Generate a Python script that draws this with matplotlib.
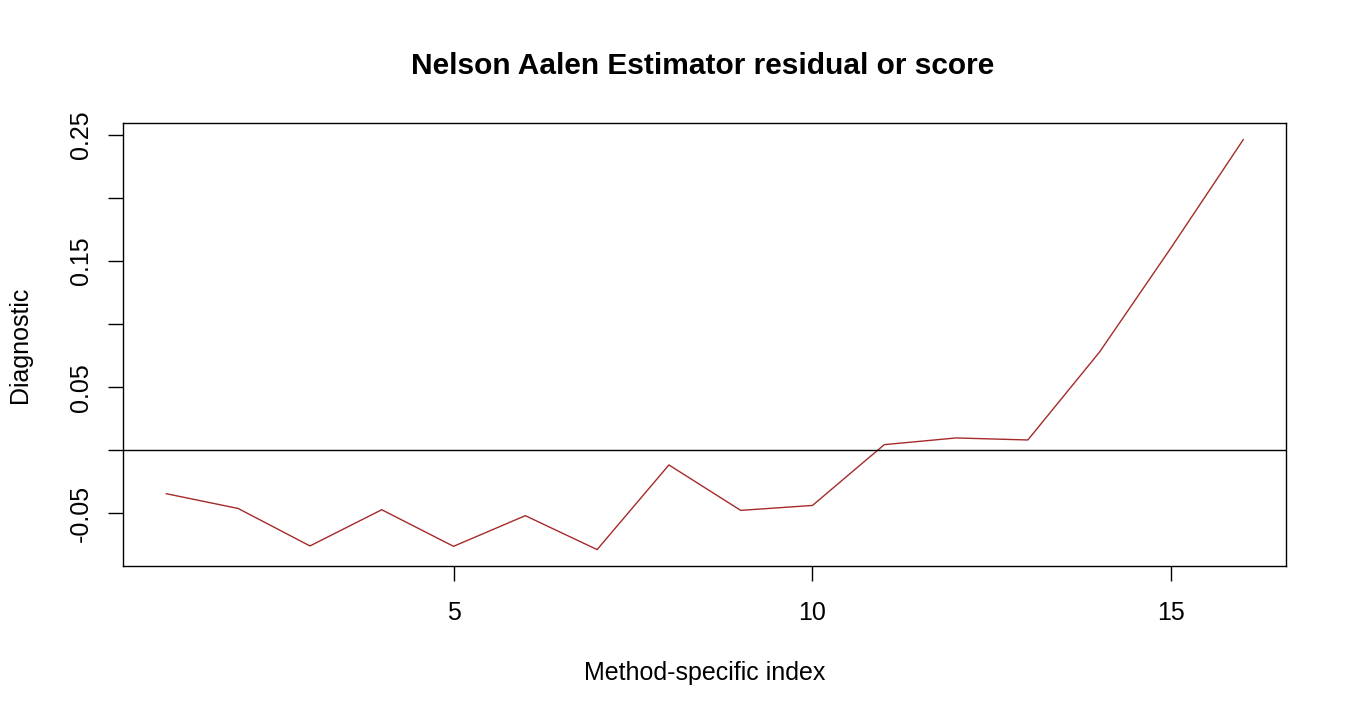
import matplotlib
matplotlib.use("Agg")
import matplotlib.pyplot as plt
import numpy as np

index = list(range(1, 17))
diagnostic = [-0.0344, -0.0461, -0.0758, -0.0471, -0.0761, -0.0518, -0.0787, -0.0116,
              -0.0476, -0.0437, 0.0045, 0.0098, 0.0082, 0.0780, 0.1610, 0.2462]
xticks = [5, 10, 15]
yticks = [-0.05, 0.0, 0.05, 0.10, 0.15, 0.20, 0.25]
ytick_labels = ["-0.05", "", "0.05", "", "0.15", "", "0.25"]
title = "Nelson Aalen Estimator residual or score"
xlabel = "Method-specific index"
ylabel = "Diagnostic"

plt.rcParams['font.family'] = ['Liberation Sans', 'DejaVu Sans']

fig = plt.figure(figsize=(13.5, 7.2), dpi=100)
ax = fig.add_axes([123.3/1350, 1-566/720, (1286.3-123.3)/1350, (566-123.3)/720])

ax.plot(index, diagnostic, color='#A52A2A', lw=1.0)
ax.axhline(0, color='black', lw=1.0)

xr = max(index) - min(index)
ax.set_xlim(min(index) - 0.04*xr, max(index) + 0.04*xr)
yr = max(diagnostic) - min(diagnostic)
ax.set_ylim(min(diagnostic) - 0.04*yr, max(diagnostic) + 0.04*yr)

ax.set_xticks(xticks)
ax.set_xticklabels([str(t) for t in xticks])
ax.set_yticks(yticks)
ax.set_yticklabels(ytick_labels, rotation=90, va='center')

ax.tick_params(axis='both', direction='out', length=11, width=1.0, labelsize=18, color='black')
ax.tick_params(axis='x', pad=14.5)
ax.tick_params(axis='y', pad=11)
for s in ax.spines.values():
    s.set_linewidth(1.0)
    s.set_color('black')

ax.set_xlabel(xlabel, fontsize=18, va='center')
ax.xaxis.set_label_coords(0.5, (566-673)/442.7)
ax.set_ylabel(ylabel, fontsize=18, va='center', ha='center')
ax.yaxis.set_label_coords((20-123.3)/1163, 0.5)
fig.text(703/1350, 1-66/720, title, ha='center', va='center', fontsize=21.5, fontweight='bold')

fig.savefig("out.png", dpi=100)
